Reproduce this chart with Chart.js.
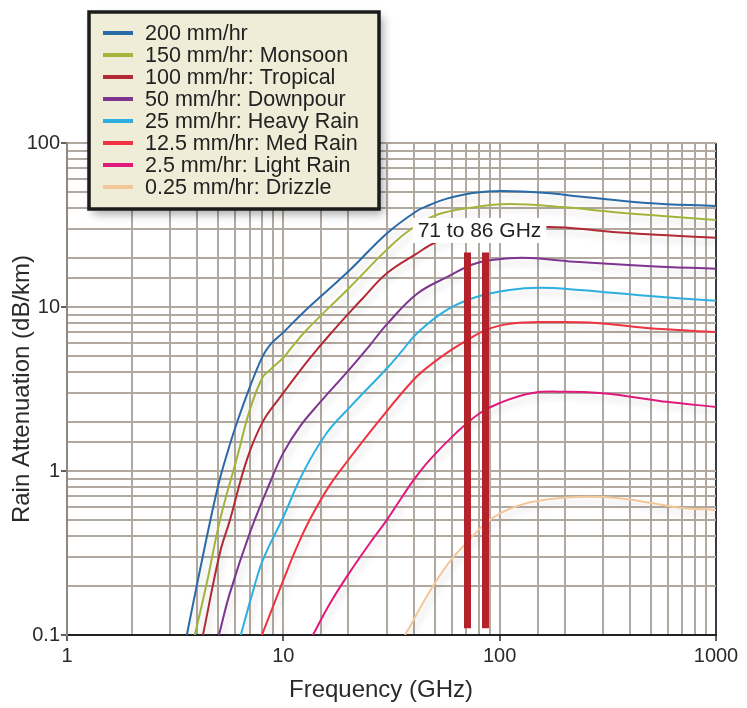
<!DOCTYPE html>
<html>
<head>
<meta charset="utf-8">
<style>
  html, body { margin: 0; padding: 0; background: #ffffff; }
  #wrap { width: 747px; height: 708px; }
</style>
<script src="https://cdn.jsdelivr.net/npm/chart.js@4.4.1/dist/chart.umd.min.js"></script>
</head>
<body>
<div id="wrap"><canvas id="c" width="747" height="708"></canvas></div>
<script>
// ---------------- data ----------------
const seriesLabels = [
  '200 mm/hr',
  '150 mm/hr: Monsoon',
  '100 mm/hr: Tropical',
  '50 mm/hr: Downpour',
  '25 mm/hr: Heavy Rain',
  '12.5 mm/hr: Med Rain',
  '2.5 mm/hr: Light Rain',
  '0.25 mm/hr: Drizzle'
];
const seriesColors = ['#2a6aa6', '#a3b53b', '#b22a35', '#7d3590', '#2db0e0', '#ef3340', '#e0197d', '#f2c79a'];

const freq200 = [3.58, 4.12, 4.98, 5.66, 6.1, 7.0, 8.0, 8.7, 10, 12.3, 20.3, 30, 41.4, 47.5, 57, 75, 103, 165, 234, 477, 1000];
const att200  = [0.1, 0.25, 0.80, 1.45, 1.97, 3.25, 4.96, 5.9, 7.0, 9.2, 16.8, 28, 38.5, 41.9, 45.8, 49.6, 51.0, 49.6, 47.2, 43.1, 41.3];

const freq150 = [3.9, 4.43, 5.09, 6.1, 7.0, 8.0, 8.7, 10, 10.7, 12.8, 20.3, 30, 38.4, 51, 75, 110, 195, 333, 566, 1000];
const att150  = [0.1, 0.208, 0.50, 1.2, 2.36, 3.7, 4.15, 4.9, 5.47, 7.24, 13.2, 22.3, 29.5, 36.4, 40.5, 42.5, 40.7, 38.0, 35.9, 33.9];

const freq100 = [4.25, 5.09, 5.66, 6.78, 8.04, 9.63, 12.3, 14.3, 16.9, 20.3, 23.3, 30, 41, 51, 70, 100, 140, 200, 333, 566, 1000];
const att100  = [0.1, 0.316, 0.50, 1.17, 2.0, 2.8, 4.3, 5.5, 7.1, 9.3, 11.3, 16.0, 21.0, 24.9, 28.3, 30.3, 30.9, 30.5, 28.7, 27.5, 26.4];

const freq50 = [5.04, 5.66, 7.0, 8.66, 10, 11.9, 14.7, 20.3, 25, 30, 41.4, 57, 78, 111, 138, 234, 477, 1000];
const att50  = [0.1, 0.18, 0.42, 0.845, 1.29, 1.86, 2.6, 4.2, 5.8, 7.8, 12.0, 15.2, 18.5, 19.8, 19.9, 18.8, 17.8, 17.1];

const freq25 = [6.36, 7.2, 8.04, 10, 12.3, 15.9, 20.3, 30, 35, 41.4, 57, 78, 111, 153, 234, 477, 1000];
const att25  = [0.1, 0.18, 0.286, 0.524, 0.97, 1.71, 2.45, 4.2, 5.3, 6.9, 9.6, 11.5, 12.7, 13.1, 12.7, 11.7, 10.9];

const freq12 = [7.96, 10, 11.5, 13.3, 16.4, 20.3, 27.9, 40, 47.5, 60, 70.4, 83.5, 100, 130, 165, 281, 477, 1000];
const att12  = [0.1, 0.216, 0.34, 0.51, 0.82, 1.20, 2.05, 3.6, 4.4, 5.5, 6.25, 7.1, 7.7, 8.05, 8.1, 8.0, 7.45, 7.04];

const freq2 = [13.7, 16.4, 20, 25, 30, 35, 40, 47.5, 63.3, 80.9, 100, 142, 204, 290, 411, 590, 1000];
const att2  = [0.1, 0.155, 0.235, 0.36, 0.50, 0.68, 0.88, 1.17, 1.72, 2.25, 2.6, 2.99, 3.04, 2.99, 2.83, 2.64, 2.46];

const freq025 = [36.5, 38.4, 44, 51.2, 60, 71, 86, 100, 120, 142, 204, 300, 400, 493, 700, 1000];
const att025  = [0.1, 0.112, 0.155, 0.216, 0.29, 0.37, 0.48, 0.55, 0.61, 0.65, 0.69, 0.695, 0.67, 0.64, 0.595, 0.579];

const seriesFreqs = [freq200, freq150, freq100, freq50, freq25, freq12, freq2, freq025];
const seriesAtts  = [att200, att150, att100, att50, att25, att12, att2, att025];

// E-band marker bars
const bandEdges = [71, 86];
const bandRange = [0.11, 21.5];
const bandText = '71 to 86 GHz';
const bandTextLevel = 29.5;

const xTickValues = [1, 10, 100, 1000];
const xTickLabels = ['1', '10', '100', '1000'];
const yTickValues = [0.1, 1, 10, 100];
const yTickLabels = ['0.1', '1', '10', '100'];
const xTitle = 'Frequency (GHz)';
const yTitle = 'Rain Attenuation (dB/km)';

// ---------------- build ----------------
const FONT = "'Liberation Sans', Arial, Helvetica, sans-serif";
const GRID = '#b1a89f';

function matchIdx(list, v) {
  return list.findIndex(t => Math.abs(Math.log10(t) - Math.log10(v)) < 1e-6);
}

const datasets = [];
bandEdges.forEach((f) => {
  datasets.push({
    isBand: true,
    data: bandRange.map(a => ({ x: f, y: a })),
    borderColor: '#b3212b',
    borderWidth: 7,
    borderCapStyle: 'butt',
    pointRadius: 0,
    fill: false,
    order: 0
  });
});
seriesLabels.forEach((lab, i) => {
  datasets.push({
    isCurve: true,
    label: lab,
    data: seriesFreqs[i].map((f, k) => ({ x: f, y: seriesAtts[i][k] })),
    borderColor: seriesColors[i],
    borderWidth: 2,
    pointRadius: 0,
    fill: false,
    tension: 0.4,
    order: 1
  });
});

const shadowPlugin = {
  id: 'curveShadow',
  beforeDatasetDraw(chart, args) {
    const ds = chart.data.datasets[args.index];
    if (!ds.isCurve) return;
    const c = chart.ctx;
    c.save();
    c.shadowColor = 'rgba(80,80,80,0.22)';
    c.shadowBlur = 6;
    c.shadowOffsetX = 3;
    c.shadowOffsetY = 5;
  },
  afterDatasetDraw(chart, args) {
    const ds = chart.data.datasets[args.index];
    if (!ds.isCurve) return;
    chart.ctx.restore();
  }
};

const bandLabelPlugin = {
  id: 'bandLabel',
  afterDatasetsDraw(chart) {
    const c = chart.ctx;
    const xs = chart.scales.x, ys = chart.scales.y;
    const cx = xs.getPixelForValue(Math.sqrt(bandEdges[0] * bandEdges[1])) + 3;
    const cy = ys.getPixelForValue(bandTextLevel);
    c.save();
    c.font = '21px ' + FONT;
    const w = c.measureText(bandText).width;
    c.fillStyle = '#ffffff';
    c.fillRect(cx - w / 2 - 5, cy - 12, w + 10, 25);
    c.fillStyle = '#222222';
    c.textAlign = 'center';
    c.textBaseline = 'middle';
    c.fillText(bandText, cx, cy + 1);
    c.restore();
  }
};

const xTitlePlugin = {
  id: 'xTitle',
  afterDraw(chart) {
    const c = chart.ctx;
    c.save();
    c.font = '24px ' + FONT;
    c.fillStyle = '#2a2a2a';
    c.textAlign = 'center';
    c.textBaseline = 'middle';
    c.fillText(xTitle, 381, 690);
    c.restore();
  }
};

const legendPlugin = {
  id: 'legendBox',
  afterDraw(chart) {
    const c = chart.ctx;
    const bx = 89, by = 12, bw = 290, bh = 197;
    c.save();
    c.shadowColor = 'rgba(0,0,0,0.35)';
    c.shadowBlur = 9;
    c.shadowOffsetX = 4;
    c.shadowOffsetY = 5;
    c.fillStyle = '#efedd7';
    c.fillRect(bx, by, bw, bh);
    c.shadowColor = 'transparent';
    c.shadowBlur = 0;
    c.shadowOffsetX = 0;
    c.shadowOffsetY = 0;
    c.lineWidth = 3.5;
    c.strokeStyle = '#1b1b1b';
    c.strokeRect(bx, by, bw, bh);
    c.font = '21.5px ' + FONT;
    c.textBaseline = 'middle';
    c.textAlign = 'left';
    const curves = chart.data.datasets.filter(d => d.isCurve);
    curves.forEach((ds, i) => {
      const y = 33 + i * 22;
      c.strokeStyle = ds.borderColor;
      c.lineWidth = 4;
      c.beginPath();
      c.moveTo(103, y);
      c.lineTo(133, y);
      c.stroke();
      c.fillStyle = '#222222';
      c.fillText(ds.label, 145, y + 1);
    });
    c.restore();
  }
};

new Chart(document.getElementById('c'), {
  type: 'line',
  data: { datasets },
  plugins: [shadowPlugin, bandLabelPlugin, xTitlePlugin, legendPlugin],
  options: {
    responsive: false,
    animation: false,
    devicePixelRatio: 1,
    layout: { padding: { top: 143, right: 31, left: 0, bottom: 0 } },
    plugins: { legend: { display: false }, tooltip: { enabled: false } },
    scales: {
      x: {
        type: 'logarithmic',
        position: 'bottom',
        min: 1,
        max: 1000,
        afterFit: s => { s.height = 73; },
        ticks: {
          autoSkip: false,
          maxRotation: 0,
          padding: 3,
          color: '#2a2a2a',
          font: { family: FONT, size: 20 },
          callback: v => { const i = matchIdx(xTickValues, v); return i >= 0 ? xTickLabels[i] : ''; }
        },
        grid: {
          color: c => (c.tick && matchIdx([1000], c.tick.value) === 0) ? '#3a3a3a' : GRID,
          lineWidth: 2,
          tickLength: 6,
          tickColor: c => (c.tick && matchIdx(xTickValues, c.tick.value) >= 0) ? '#2a2a2a' : 'rgba(0,0,0,0)',
          tickWidth: 1.5
        },
        border: { display: true, color: '#222222', width: 2 },
        title: { display: false, text: xTitle }
      },
      y: {
        type: 'logarithmic',
        min: 0.1,
        max: 100,
        afterFit: s => { s.width = 67; },
        ticks: {
          autoSkip: false,
          padding: 1,
          color: '#2a2a2a',
          font: { family: FONT, size: 20 },
          callback: v => { const i = matchIdx(yTickValues, v); return i >= 0 ? yTickLabels[i] : ''; }
        },
        grid: {
          color: GRID,
          lineWidth: 2,
          tickLength: 6,
          tickColor: c => (c.tick && matchIdx(yTickValues, c.tick.value) >= 0) ? '#2a2a2a' : 'rgba(0,0,0,0)',
          tickWidth: 1.5
        },
        border: { display: true, color: '#8f867e', width: 2 },
        title: {
          display: true,
          text: yTitle,
          color: '#2a2a2a',
          font: { family: FONT, size: 24 },
          padding: { top: 8, bottom: 0 }
        }
      }
    }
  }
});
</script>
</body>
</html>
